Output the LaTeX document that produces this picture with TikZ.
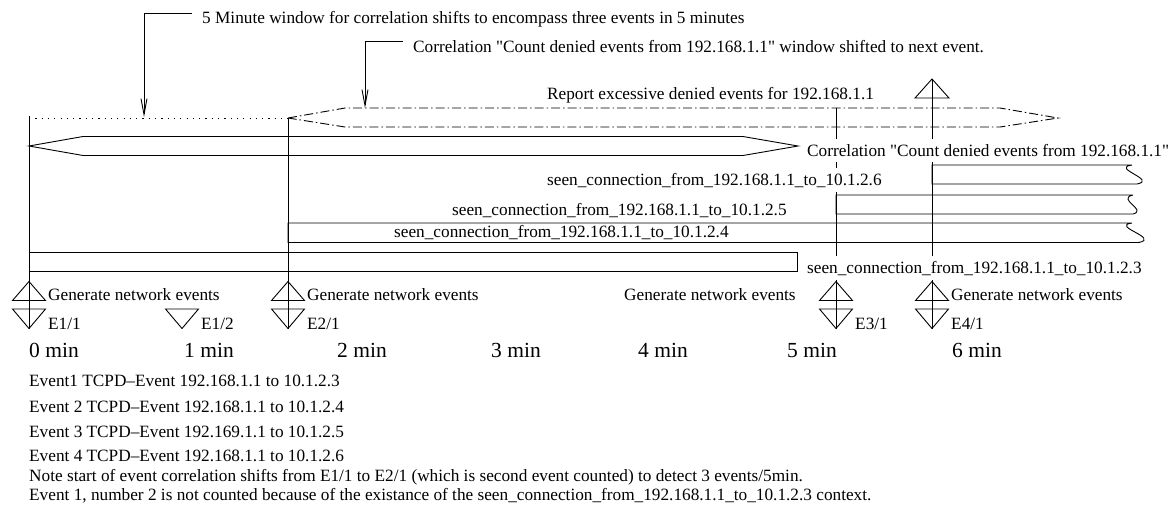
\documentclass[tikz,border=0pt]{standalone}
\usepackage{fontspec}
\setmainfont{Liberation Serif}[Ligatures=TeXOff]
\usetikzlibrary{arrows.meta}
\begin{document}
\begin{tikzpicture}[x=1pt,y=-1pt,
  lbl/.style={font=\fontsize{17.25}{20}\selectfont, inner sep=0pt, anchor=base west},
  cover/.style={fill=white, inner ysep=5pt, inner xsep=1pt},
  minlbl/.style={font=\fontsize{21.5}{24}\selectfont, inner sep=0pt, anchor=base west},
  ln/.style={line width=0.9pt},
  dashdot/.style={line width=0.9pt, dash pattern=on 9pt off 3pt on 1.5pt off 3pt},
  dotline/.style={line width=0.9pt, dash pattern=on 1.2pt off 5.1pt},
  leader/.style={line width=0.9pt, -{Straight Barb[length=16pt,width=6pt]}},
]
\fill[white] (0,0) rectangle (1169,512);
\useasboundingbox (0,0) rectangle (1169,512);

% ---- vertical event lines
\coordinate (v1top) at (29,116);  \coordinate (v1bot) at (29,328.5);
\coordinate (v2top) at (288,118); \coordinate (v2bot) at (288,328.5);
\coordinate (v3top) at (836,108); \coordinate (v3bot) at (836,328.5);
\coordinate (v4top) at (932,79);  \coordinate (v4bot) at (932,328.5);
\draw[ln] (v1top) -- (v1bot);
\draw[ln] (v2top) -- (v2bot);
\draw[ln] (v3top) -- (v3bot);
\draw[ln] (v4top) -- (v4bot);

% ---- first 5 minute window (dotted)
\coordinate (w0a) at (29,118); \coordinate (w0b) at (288,118);
\draw[dotline] (w0a) -- (w0b);

% ---- shifted window (dash dot)
\draw[dashdot] (288,118) -- (345,108) -- (1000,108) -- (1058,118) -- (1000,127) -- (345,127) -- cycle;

% ---- correlation window (solid)
\draw[ln] (29,146) -- (83,136.5) -- (743,136.5) -- (798,146) -- (743,155.5) -- (83,155.5) -- cycle;

% ---- context bars
\draw[ln] (1132,165) -- (932,165) -- (932,184) -- (1137,184) .. controls (1158,180) and (1110,168) .. (1132,165);
\draw[ln] (1133,195) -- (836,195) -- (836,214) -- (1133,214) .. controls (1148,210) and (1116,199) .. (1133,195);
\draw[ln] (1132,223) -- (288,223) -- (288,242.5) -- (1139,242.5) .. controls (1160,238) and (1110,226) .. (1132,223);
\draw[ln] (29,252) rectangle (797,271);

% ---- triangles
\foreach \cx in {29,288,836,932}{
  \draw[ln] (\cx,281.5) -- (\cx+16.5,300.5) -- (\cx-16.5,300.5) -- cycle;
}
\foreach \cx in {29,182,288,836,932}{
  \draw[ln] (\cx-16.5,309) -- (\cx+16.5,309) -- (\cx,328.5) -- cycle;
}
\draw[ln] (932,79) -- (949,98) -- (915,98) -- cycle;

% ---- top annotations with leaders
\node[lbl] (t1) at (202,23) {5 Minute window for correlation shifts to encompass three events in 5 minutes};
\coordinate (a1s) at (192,13); \coordinate (a1e) at (144,117);
\draw[leader] (a1s) -| (a1e);
\node[lbl] (t2) at (413,52) {Correlation "Count denied events from 192.168.1.1" window shifted to next event.};
\coordinate (a2s) at (403,41); \coordinate (a2e) at (365,108);
\draw[leader] (a2s) -| (a2e);

\node[lbl] (rep) at (547,99) {Report excessive denied events for 192.168.1.1};
\node[lbl,cover] (corr) at (806,156.5) {Correlation "Count denied events from 192.168.1.1"};

\node[lbl,cover] (c6) at (546,185) {seen\_connection\_from\_192.168.1.1\_to\_10.1.2.6};
\node[lbl] (c5) at (452,215) {seen\_connection\_from\_192.168.1.1\_to\_10.1.2.5};
\node[lbl] (c4) at (394,237) {seen\_connection\_from\_192.168.1.1\_to\_10.1.2.4};
\node[lbl,cover] (c3) at (806,273) {seen\_connection\_from\_192.168.1.1\_to\_10.1.2.3};

% ---- event generators
\node[lbl] (g1) at (48,300) {Generate network events};
\node[lbl] (g2) at (307,300) {Generate network events};
\node[lbl] (g3) at (624,300) {Generate network events};
\node[lbl] (g4) at (951,300) {Generate network events};

\node[lbl] (e11) at (48,329) {E1/1};
\node[lbl] (e12) at (201,329) {E1/2};
\node[lbl] (e21) at (307,329) {E2/1};
\node[lbl] (e31) at (855,329) {E3/1};
\node[lbl] (e41) at (951,329) {E4/1};

% ---- time axis
\node[minlbl] (m0) at (29,357) {0 min};
\node[minlbl] (m1) at (184,357) {1 min};
\node[minlbl] (m2) at (337,357) {2 min};
\node[minlbl] (m3) at (491,357) {3 min};
\node[minlbl] (m4) at (638,357) {4 min};
\node[minlbl] (m5) at (787,357) {5 min};
\node[minlbl] (m6) at (952,357) {6 min};

% ---- notes
\node[lbl] (n1) at (29,386) {Event1 TCPD–Event 192.168.1.1 to 10.1.2.3};
\node[lbl] (n2) at (29,412) {Event 2 TCPD–Event 192.168.1.1 to 10.1.2.4};
\node[lbl] (n3) at (29,437) {Event 3 TCPD–Event 192.169.1.1 to 10.1.2.5};
\node[lbl] (n4) at (29,461) {Event 4 TCPD–Event 192.168.1.1 to 10.1.2.6};
\node[lbl] (n5) at (29,481) {Note start of event correlation shifts from E1/1 to E2/1 (which is second event counted) to detect 3 events/5min.};
\node[lbl] (n6) at (29,500) {Event 1, number 2 is not counted because of the existance of the seen\_connection\_from\_192.168.1.1\_to\_10.1.2.3 context.};
\end{tikzpicture}
\end{document}
